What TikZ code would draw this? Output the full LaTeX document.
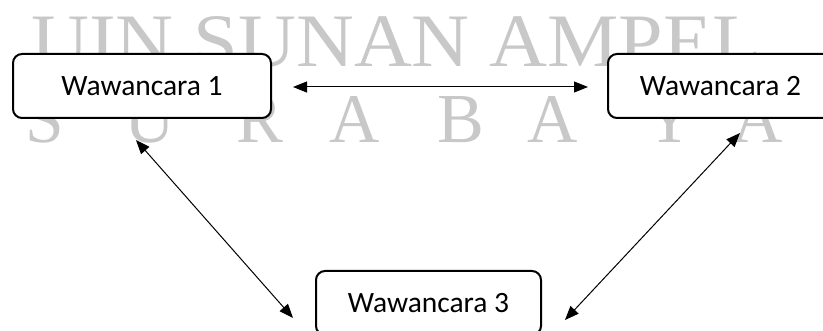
\documentclass[tikz,border=0pt]{standalone}
\usepackage{fontspec}
\setmainfont{Carlito}
\newfontfamily\wmfont{Liberation Serif}
\usetikzlibrary{arrows.meta}
\definecolor{wmgray}{RGB}{200,200,200}
\begin{document}
\begin{tikzpicture}[x=1pt,y=-1pt,
  box/.style={draw=black,fill=white,line width=2pt,rounded corners=9pt,minimum width=225pt,minimum height=64pt,inner sep=0pt,
    font=\fontsize{29.5pt}{31pt}\selectfont},
  conn/.style={line width=1pt,{Triangle[length=14pt,width=11pt]}-{Triangle[length=14pt,width=11pt]}},
  wm/.style={text=wmgray,inner sep=0pt,font=\wmfont}]
\useasboundingbox (0,0) rectangle (823,331);
% watermark
\node[wm,anchor=south west] (wmtop) at (31,67) {\resizebox{730pt}{50pt}{UIN SUNAN AMPEL}};
\foreach \x/\l [count=\i] in {45/S,150/U,260/R,355/A,461/B,553/A,670/Y,758/A}{
  \node[wm,anchor=south] (wm\i) at (\x,143) {\resizebox{!}{46pt}{\l}};
}
% boxes
\node[box,minimum width=258pt] (w1) at (142,86) {Wawancara 1};
\node[box] (w2) at (720.5,86) {Wawancara 2};
\node[box] (w3) at (428.5,303) {Wawancara 3};
% connector ends
\coordinate (h1) at (293,87);
\coordinate (h2) at (588,87);
\coordinate (l1) at (136,140);
\coordinate (l2) at (293,318);
\coordinate (r1) at (740,133);
\coordinate (r2) at (565,320);
\draw[conn] (h1) -- (h2);
\draw[conn] (l1) -- (l2);
\draw[conn] (r1) -- (r2);
\end{tikzpicture}
\end{document}
